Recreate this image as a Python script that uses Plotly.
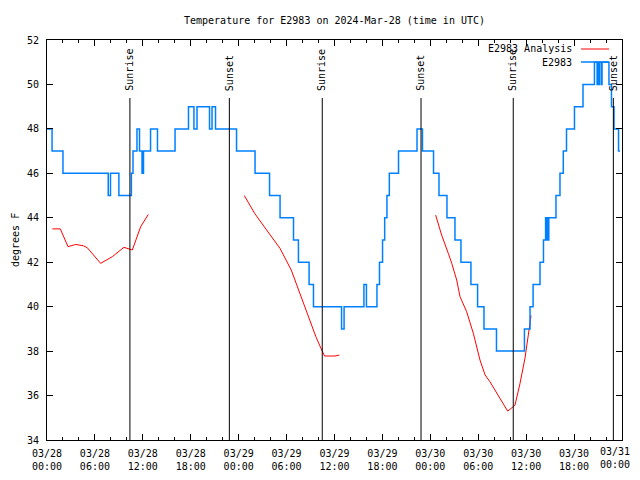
import plotly.graph_objects as go

# ---- data ----
obs_times = [
    "2024-03-28 00:00", "2024-03-28 00:38", "2024-03-28 02:00", "2024-03-28 07:40", "2024-03-28 07:57",
    "2024-03-28 09:00", "2024-03-28 10:34", "2024-03-28 10:46", "2024-03-28 11:16", "2024-03-28 11:35",
    "2024-03-28 11:54", "2024-03-28 12:05", "2024-03-28 12:58", "2024-03-28 13:50", "2024-03-28 16:02",
    "2024-03-28 17:43", "2024-03-28 18:24", "2024-03-28 18:47", "2024-03-28 20:21", "2024-03-28 20:40",
    "2024-03-28 21:06", "2024-03-28 23:44", "2024-03-29 02:03", "2024-03-29 03:52", "2024-03-29 05:11",
    "2024-03-29 06:52", "2024-03-29 07:29", "2024-03-29 08:49", "2024-03-29 09:22", "2024-03-29 12:53",
    "2024-03-29 13:12", "2024-03-29 15:41", "2024-03-29 16:00", "2024-03-29 17:19", "2024-03-29 17:38",
    "2024-03-29 18:01", "2024-03-29 18:17", "2024-03-29 18:34", "2024-03-29 18:52", "2024-03-29 20:01",
    "2024-03-29 22:20", "2024-03-29 23:01", "2024-03-30 00:24", "2024-03-30 01:05", "2024-03-30 02:05",
    "2024-03-30 03:05", "2024-03-30 03:50", "2024-03-30 05:05", "2024-03-30 05:55", "2024-03-30 06:43",
    "2024-03-30 08:17", "2024-03-30 11:47", "2024-03-30 12:29", "2024-03-30 12:52", "2024-03-30 13:44",
    "2024-03-30 14:10", "2024-03-30 14:26", "2024-03-30 14:34", "2024-03-30 14:38", "2024-03-30 14:46",
    "2024-03-30 14:50", "2024-03-30 15:44", "2024-03-30 16:14", "2024-03-30 16:39", "2024-03-30 17:03",
    "2024-03-30 18:03", "2024-03-30 19:07", "2024-03-30 20:33", "2024-03-30 20:53", "2024-03-30 20:57",
    "2024-03-30 21:08", "2024-03-30 21:12", "2024-03-30 21:26", "2024-03-30 21:30", "2024-03-30 22:22",
    "2024-03-30 22:41", "2024-03-30 23:00", "2024-03-30 23:34", "2024-03-30 23:45",
]
obs_temps = [
    48, 47, 46, 45, 46,
    45, 46, 47, 48, 47,
    46, 47, 48, 47, 48,
    49, 48, 49, 48, 49,
    48, 47, 46, 45, 44,
    43, 42, 41, 40, 39,
    40, 41, 40, 41, 42,
    43, 44, 45, 46, 47,
    48, 47, 46, 45, 44,
    43, 42, 41, 40, 39,
    38, 39, 40, 41, 42,
    43, 44, 43, 44, 43,
    44, 45, 46, 47, 48,
    49, 50, 51, 50, 51,
    50, 51, 50, 51, 50,
    49, 48, 47, 47,
]

ana_times = [
    "2024-03-28 00:40", "2024-03-28 01:40", "2024-03-28 02:38", "2024-03-28 03:36", "2024-03-28 04:33",
    "2024-03-28 05:03", "2024-03-28 06:43", "2024-03-28 08:11", "2024-03-28 09:38", "2024-03-28 10:41",
    "2024-03-28 11:44", "2024-03-28 12:41", None,
    "2024-03-29 00:42", "2024-03-29 02:00", "2024-03-29 03:30", "2024-03-29 05:10", "2024-03-29 06:35",
    "2024-03-29 07:16", "2024-03-29 08:35", "2024-03-29 09:40", "2024-03-29 10:24", "2024-03-29 10:45",
    "2024-03-29 12:04", "2024-03-29 12:36", None,
    "2024-03-30 00:40", "2024-03-30 01:25", "2024-03-30 02:15", "2024-03-30 02:41", "2024-03-30 03:18",
    "2024-03-30 03:43", "2024-03-30 04:33", "2024-03-30 05:23", "2024-03-30 06:13", "2024-03-30 06:51",
    "2024-03-30 07:28", "2024-03-30 08:19", "2024-03-30 09:01", "2024-03-30 09:41", "2024-03-30 10:23",
    "2024-03-30 10:36", "2024-03-30 11:14", "2024-03-30 11:51", "2024-03-30 12:37",
]
ana_temps = [
    43.5, 43.5, 42.7, 42.8, 42.74,
    42.65, 41.95, 42.25, 42.67, 42.55,
    43.6, 44.15, None,
    45.0, 44.2, 43.45, 42.63, 41.65,
    41.0, 39.7, 38.65, 38.05, 37.78,
    37.78, 37.82, None,
    44.12, 43.22, 42.4, 41.95, 41.2,
    40.45, 39.77, 38.8, 37.6, 36.93,
    36.62, 36.1, 35.65, 35.3, 35.5,
    35.57, 36.55, 37.68, 39.6,
]

sun_times = ["2024-03-28 10:23", "2024-03-28 22:50", "2024-03-29 10:28",
             "2024-03-29 22:50", "2024-03-30 10:23", "2024-03-30 22:55"]
sun_labels = ["Sunrise", "Sunset", "Sunrise", "Sunset", "Sunrise", "Sunset"]

tick_times = ["2024-03-28 00:00", "2024-03-28 06:00", "2024-03-28 12:00", "2024-03-28 18:00",
              "2024-03-29 00:00", "2024-03-29 06:00", "2024-03-29 12:00", "2024-03-29 18:00",
              "2024-03-30 00:00", "2024-03-30 06:00", "2024-03-30 12:00", "2024-03-30 18:00",
              "2024-03-31 00:00"]
tick_labels = ["03/28<br>00:00", "03/28<br>06:00", "03/28<br>12:00", "03/28<br>18:00",
               "03/29<br>00:00", "03/29<br>06:00", "03/29<br>12:00", "03/29<br>18:00",
               "03/30<br>00:00", "03/30<br>06:00", "03/30<br>12:00", "03/30<br>18:00",
               "03/31<br>00:00"]

series_names = ["E2983 Analysis", "E2983"]
series_colors = ["#ff0000", "#0080ff"]

x_range = ["2024-03-28 00:00", "2024-03-31 00:00"]
y_range = [34, 52]

FONT = "DejaVu Sans Mono"
W, H = 632, 464  # page body has an 8px margin

fig = go.Figure()
fig.add_trace(go.Scatter(x=ana_times, y=ana_temps, mode="lines", name=series_names[0],
                         line=dict(color=series_colors[0], width=1), connectgaps=False))
fig.add_trace(go.Scatter(x=obs_times, y=obs_temps, mode="lines", name=series_names[1],
                         line=dict(color=series_colors[1], width=1.5, shape="hv")))

for t, lab in zip(sun_times, sun_labels):
    fig.add_shape(type="line", xref="x", yref="paper", x0=t, x1=t, y0=0, y1=0.855,
                  line=dict(color="black", width=1))
    fig.add_annotation(x=t, xref="x", yref="paper", y=0.868, text=lab, textangle=-90,
                       showarrow=False, xanchor="center", yanchor="bottom",
                       font=dict(family=FONT, size=10, color="black"))

# last tick label drawn as annotation so it is not clipped at the page edge
fig.add_annotation(x=tick_times[-1], xref="x", y=0, yref="paper", yshift=-4, xshift=10,
                   text=tick_labels[-1], showarrow=False, xanchor="right", yanchor="top",
                   align="center", font=dict(family=FONT, size=10, color="black"))

# manual gnuplot-style legend (text right, sample line to the right)
leg_y = [0.9775, 0.945]
for name, col, yy in zip(series_names, series_colors, leg_y):
    fig.add_annotation(x=0.9165, y=yy, xref="paper", yref="paper", text=name, showarrow=False,
                       xanchor="right", yanchor="middle", font=dict(family=FONT, size=10, color="black"))
    fig.add_shape(type="line", xref="paper", yref="paper", x0=0.9287, x1=0.9774, y0=yy, y1=yy,
                  line=dict(color=col, width=1.5 if col == series_colors[1] else 1))

fig.add_annotation(x=0, y=0.5, xref="paper", yref="paper", xshift=-32, text="degrees F",
                   textangle=-90, showarrow=False, xanchor="center", yanchor="middle",
                   font=dict(family=FONT, size=10, color="black"))

fig.update_layout(
    width=W, height=H,
    margin=dict(l=39, r=18, t=32, b=32, autoexpand=False),
    plot_bgcolor="white", paper_bgcolor="white",
    showlegend=False,
    font=dict(family=FONT, size=10, color="black"),
    title=dict(text="Temperature for E2983 on 2024-Mar-28 (time in UTC)", x=0.5, xref="paper",
               xanchor="center", y=1 - 12 / H, yref="container", yanchor="middle",
               font=dict(family=FONT, size=10, color="black")),
)
fig.update_xaxes(type="date", range=x_range, tickmode="array", tickvals=tick_times,
                 ticktext=tick_labels[:-1] + [""], ticks="inside", ticklen=6, tickcolor="black",
                 showgrid=False, zeroline=False, showline=True, linecolor="black", linewidth=1,
                 mirror="ticks", automargin=False, ticklabelstandoff=4, ticklabeloverflow="allow",
                 minor=dict(dtick=2 * 3600 * 1000, tick0="2024-03-28", ticks="inside", ticklen=3,
                            tickcolor="black", showgrid=False))
fig.update_yaxes(range=y_range, dtick=2, ticks="inside", ticklen=6, tickcolor="black",
                 showgrid=False, zeroline=False, showline=True, linecolor="black", linewidth=1,
                 mirror="ticks", automargin=False, ticklabelstandoff=5)

fig.write_html("out.html")
